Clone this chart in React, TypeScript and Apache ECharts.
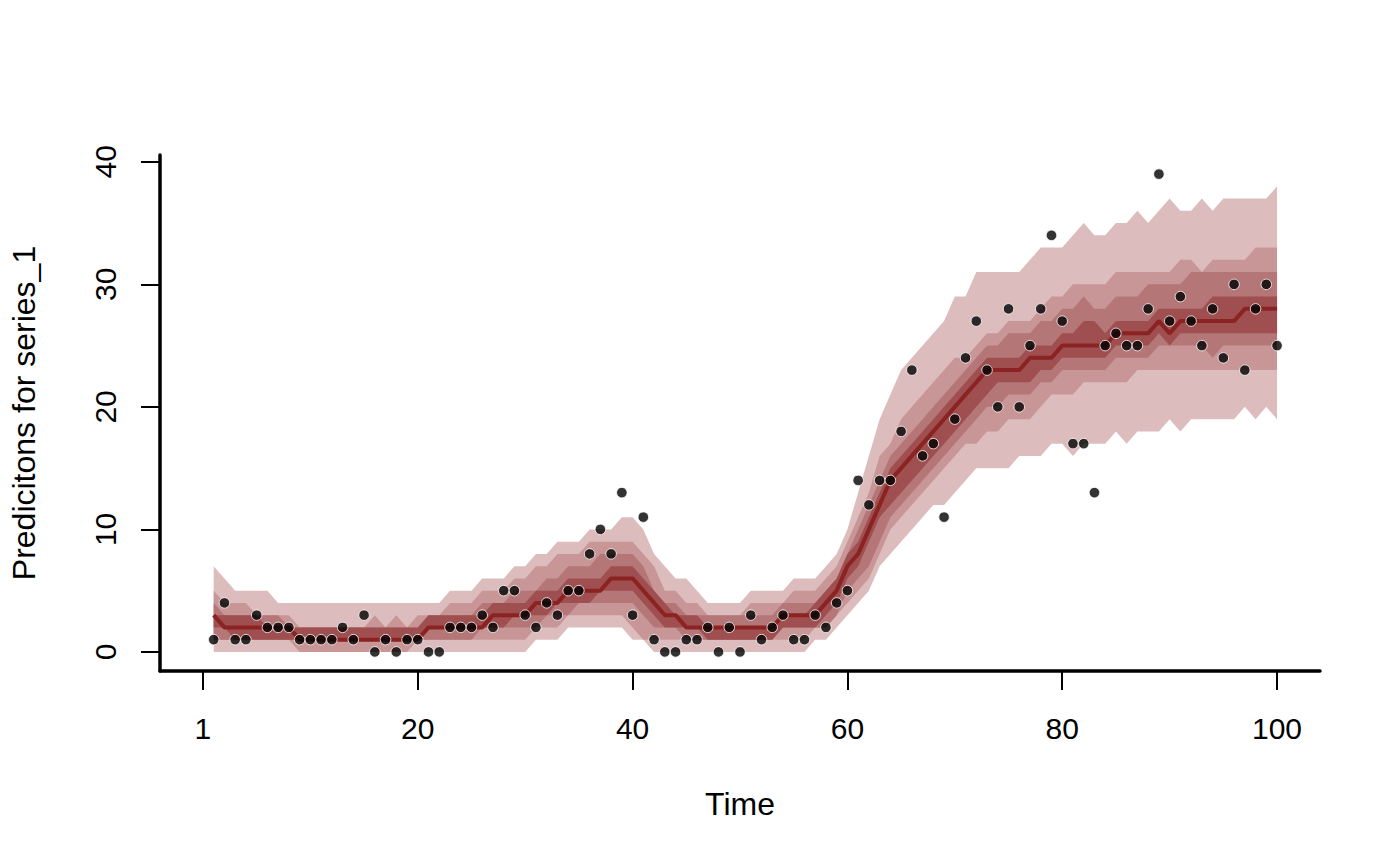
import React, { useEffect, useRef } from "react";
import * as echarts from "echarts";

// time index 1..100
const time = Array.from({ length: 100 }, (_, i) => i + 1);

const observed = [
  1, 4, 1, 1, 3, 2, 2, 2, 1, 1, 1, 1, 2, 1, 3, 0, 1, 0, 1, 1,
  0, 0, 2, 2, 2, 3, 2, 5, 5, 3, 2, 4, 3, 5, 5, 8, 10, 8, 13, 3,
  11, 1, 0, 0, 1, 1, 2, 0, 2, 0, 3, 1, 2, 3, 1, 1, 3, 2, 4, 5,
  14, 12, 14, 14, 18, 23, 16, 17, 11, 19, 24, 27, 23, 20, 28, 20, 25, 28, 34, 27,
  17, 17, 13, 25, 26, 25, 25, 28, 39, 27, 29, 27, 25, 28, 24, 30, 23, 28, 30, 25,
];

const median = [
  3, 2, 2, 2, 2, 2, 2, 2, 1, 1, 1, 1, 1, 1, 1, 1, 1, 1, 1, 1,
  2, 2, 2, 2, 2, 2, 3, 3, 3, 3, 4, 4, 4, 5, 5, 5, 5, 6, 6, 6,
  5, 4, 3, 3, 2, 2, 2, 2, 2, 2, 2, 2, 2, 3, 3, 3, 3, 4, 5, 7,
  8, 10, 12, 14, 15, 16, 17, 18, 19, 20, 21, 22, 23, 23, 23, 23, 24, 24, 24, 25,
  25, 25, 25, 25, 26, 26, 26, 26, 27, 26, 27, 27, 27, 27, 27, 27, 28, 28, 28, 28,
];

// outer interval (lightest)
const hi1 = [
  7, 6, 5, 5, 5, 5, 4, 4, 4, 4, 4, 4, 4, 4, 4, 4, 4, 4, 4, 4,
  4, 4, 5, 5, 5, 6, 6, 6, 7, 7, 8, 8, 9, 9, 9, 10, 10, 10, 11, 11,
  10, 8, 7, 6, 6, 5, 4, 4, 4, 4, 5, 5, 5, 5, 6, 6, 6, 7, 8, 10,
  13, 16, 19, 21, 23, 24, 25, 26, 27, 29, 29, 31, 31, 31, 31, 31, 32, 33, 33, 33,
  34, 35, 34, 34, 35, 35, 36, 35, 36, 37, 36, 36, 37, 36, 37, 37, 37, 37, 37, 38,
];
const lo1 = [
  0, 0, 0, 0, 0, 0, 0, 0, 0, 0, 0, 0, 0, 0, 0, 0, 0, 0, 0, 0,
  0, 0, 0, 0, 0, 0, 0, 0, 0, 0, 1, 1, 1, 2, 2, 2, 2, 2, 2, 1,
  1, 0, 0, 0, 0, 0, 0, 0, 0, 0, 0, 0, 0, 0, 0, 0, 1, 1, 2, 3,
  4, 5, 7, 8, 9, 10, 11, 12, 12, 13, 14, 15, 15, 15, 15, 16, 16, 16, 17, 17,
  16, 17, 17, 17, 18, 17, 18, 18, 18, 19, 18, 19, 19, 19, 19, 19, 20, 19, 20, 19,
];

const hi2 = [
  5, 4, 4, 4, 3, 3, 3, 3, 2, 2, 2, 2, 2, 2, 2, 3, 2, 3, 2, 3,
  3, 3, 4, 4, 4, 5, 5, 5, 6, 6, 7, 7, 8, 8, 8, 9, 9, 9, 9, 9,
  8, 7, 5, 5, 4, 4, 3, 3, 3, 3, 4, 4, 4, 4, 5, 5, 5, 6, 7, 9,
  11, 13, 16, 17, 19, 20, 21, 22, 23, 24, 24, 25, 26, 26, 27, 27, 27, 28, 29, 29,
  30, 30, 30, 30, 31, 31, 31, 31, 31, 31, 32, 32, 31, 32, 32, 32, 32, 33, 33, 33,
];
const lo2 = [
  1, 1, 1, 1, 1, 1, 1, 1, 0, 0, 0, 0, 0, 0, 0, 0, 0, 0, 0, 1,
  1, 1, 1, 1, 1, 1, 1, 1, 1, 1, 2, 2, 2, 3, 3, 3, 3, 3, 3, 2,
  1, 1, 1, 1, 1, 1, 1, 1, 1, 1, 1, 1, 1, 1, 1, 1, 2, 2, 3, 4,
  5, 6, 8, 10, 11, 12, 13, 14, 15, 16, 17, 17, 18, 18, 19, 19, 19, 20, 21, 21,
  21, 22, 22, 22, 22, 22, 23, 23, 23, 23, 23, 23, 23, 23, 23, 23, 23, 23, 23, 23,
];

const hi3 = [
  4, 3, 3, 3, 3, 3, 3, 2, 2, 2, 2, 2, 2, 2, 2, 2, 2, 2, 2, 2,
  3, 3, 3, 3, 3, 4, 4, 4, 5, 5, 5, 6, 6, 7, 7, 7, 8, 8, 8, 8,
  7, 5, 4, 4, 3, 3, 3, 3, 3, 3, 3, 3, 3, 4, 4, 4, 4, 5, 6, 8,
  10, 12, 14, 16, 17, 18, 19, 20, 21, 22, 23, 24, 25, 25, 26, 26, 26, 27, 27, 28,
  28, 29, 28, 28, 29, 29, 29, 30, 30, 30, 30, 31, 31, 31, 31, 31, 31, 31, 31, 31,
];
const lo3 = [
  1, 1, 1, 1, 1, 1, 1, 1, 1, 1, 1, 1, 1, 1, 1, 1, 1, 1, 1, 1,
  1, 1, 1, 1, 1, 2, 2, 2, 2, 2, 2, 3, 3, 3, 4, 4, 4, 4, 4, 4,
  3, 2, 2, 2, 1, 1, 1, 1, 1, 1, 1, 1, 1, 2, 2, 2, 2, 2, 3, 5,
  6, 7, 9, 11, 12, 13, 14, 15, 16, 17, 18, 19, 20, 20, 21, 21, 21, 22, 22, 23,
  23, 23, 23, 23, 24, 24, 24, 24, 25, 25, 25, 25, 25, 24, 25, 25, 25, 25, 25, 25,
];

// inner interval (darkest)
const hi4 = [
  3, 3, 3, 3, 3, 2, 2, 2, 2, 2, 2, 2, 2, 2, 2, 2, 2, 2, 2, 2,
  3, 3, 3, 3, 3, 3, 4, 4, 4, 4, 5, 5, 5, 6, 6, 6, 6, 7, 7, 7,
  6, 5, 4, 3, 3, 3, 2, 2, 2, 2, 2, 2, 2, 3, 3, 3, 4, 5, 6, 8,
  9, 11, 13, 15, 16, 17, 18, 19, 20, 21, 22, 23, 24, 24, 24, 24, 25, 25, 25, 26,
  26, 27, 27, 26, 27, 27, 27, 27, 28, 28, 28, 28, 28, 29, 29, 29, 29, 29, 29, 29,
];
const lo4 = [
  2, 2, 1, 1, 1, 1, 1, 1, 1, 1, 1, 1, 1, 1, 1, 1, 1, 1, 1, 1,
  2, 2, 2, 2, 2, 2, 2, 2, 3, 3, 3, 3, 4, 4, 4, 4, 5, 5, 5, 5,
  4, 3, 2, 2, 2, 2, 1, 1, 1, 1, 1, 1, 1, 2, 2, 2, 2, 3, 4, 6,
  7, 9, 11, 12, 13, 14, 15, 16, 17, 18, 19, 20, 21, 22, 22, 22, 22, 23, 23, 24,
  24, 24, 24, 24, 25, 25, 25, 25, 26, 25, 26, 26, 26, 26, 26, 26, 26, 26, 26, 26,
];

const xTickValues = [0, 20, 40, 60, 80, 100];
const xTickLabels = ["1", "20", "40", "60", "80", "100"];
const yTickValues = [0, 10, 20, 30, 40];

const FONT = "'Liberation Sans', Arial, Helvetica, sans-serif";

const bands = [
  { lo: lo1, hi: hi1, color: "#DDBCBD" },
  { lo: lo2, hi: hi2, color: "#C99697" },
  { lo: lo3, hi: hi3, color: "#B57677" },
  { lo: lo4, hi: hi4, color: "#A04F51" },
];

const App = () => {
  const chartRef = useRef<HTMLDivElement>(null);

  useEffect(() => {
    const chartDom = chartRef.current;
    if (!chartDom) return;

    const myChart = echarts.init(chartDom, null, { renderer: "svg" });

    const option: any = {
      animation: false,
      backgroundColor: "#ffffff",
      grid: {
        left: 158,
        right: 80,
        top: 155,
        bottom: 195,
        containLabel: false,
      },
      xAxis: {
        type: "value",
        min: -4,
        max: 104,
        name: "Time",
        nameLocation: "middle",
        nameGap: 117,
        nameTextStyle: { color: "#000", fontSize: 32, fontFamily: FONT },
        axisLine: { show: true, onZero: false, lineStyle: { color: "#000", width: 3.5 } },
        axisTick: {
          show: true,
          customValues: xTickValues,
          length: 19,
          lineStyle: { color: "#000", width: 2 },
        },
        axisLabel: {
          customValues: xTickValues,
          formatter: (v: number) => xTickLabels[xTickValues.indexOf(v)] ?? String(v),
          color: "#000",
          fontSize: 30,
          fontFamily: FONT,
          margin: 42,
        },
        splitLine: { show: false },
      },
      yAxis: {
        type: "value",
        min: -1.56,
        max: 40.56,
        name: "Predicitons for series_1",
        nameLocation: "middle",
        nameRotate: 90,
        nameGap: 120,
        nameTextStyle: { color: "#000", fontSize: 32, fontFamily: FONT },
        axisLine: { show: true, onZero: false, lineStyle: { color: "#000", width: 3.5 } },
        axisTick: {
          show: true,
          customValues: yTickValues,
          length: 19,
          lineStyle: { color: "#000", width: 2 },
        },
        axisLabel: {
          customValues: yTickValues,
          rotate: 90,
          color: "#000",
          fontSize: 30,
          fontFamily: FONT,
          margin: 40,
        },
        splitLine: { show: false },
      },
      series: [
        {
          type: "custom",
          name: "intervals",
          data: bands.map((_, i) => [i, 0]),
          silent: true,
          z: 1,
          renderItem: (params: any, api: any) => {
            const b = bands[params.dataIndex];
            const upper = b.hi.map((v, i) => api.coord([time[i], v]));
            const lower = b.lo.map((v, i) => api.coord([time[i], v])).reverse();
            return {
              type: "polygon",
              shape: { points: upper.concat(lower) },
              style: { fill: b.color, stroke: null },
            };
          },
        },
        {
          type: "line",
          name: "median",
          data: median.map((v, i) => [time[i], v]),
          showSymbol: false,
          z: 3,
          lineStyle: { color: "#8B2323", width: 4 },
        },
        {
          type: "scatter",
          name: "observed",
          data: observed.map((v, i) => [time[i], v]),
          symbolSize: 10.5,
          z: 5,
          itemStyle: { color: "#000000", borderColor: "#ffffff", borderWidth: 1 },
        },
      ],
    };

    myChart.setOption(option);

    const handleResize = () => myChart.resize();
    window.addEventListener("resize", handleResize);

    return () => {
      window.removeEventListener("resize", handleResize);
      myChart.dispose();
    };
  }, []);

  return (
    <div
      ref={chartRef}
      style={{ position: "absolute", left: 0, top: 0, width: "1400px", height: "866px" }}
    />
  );
};

export default App;
